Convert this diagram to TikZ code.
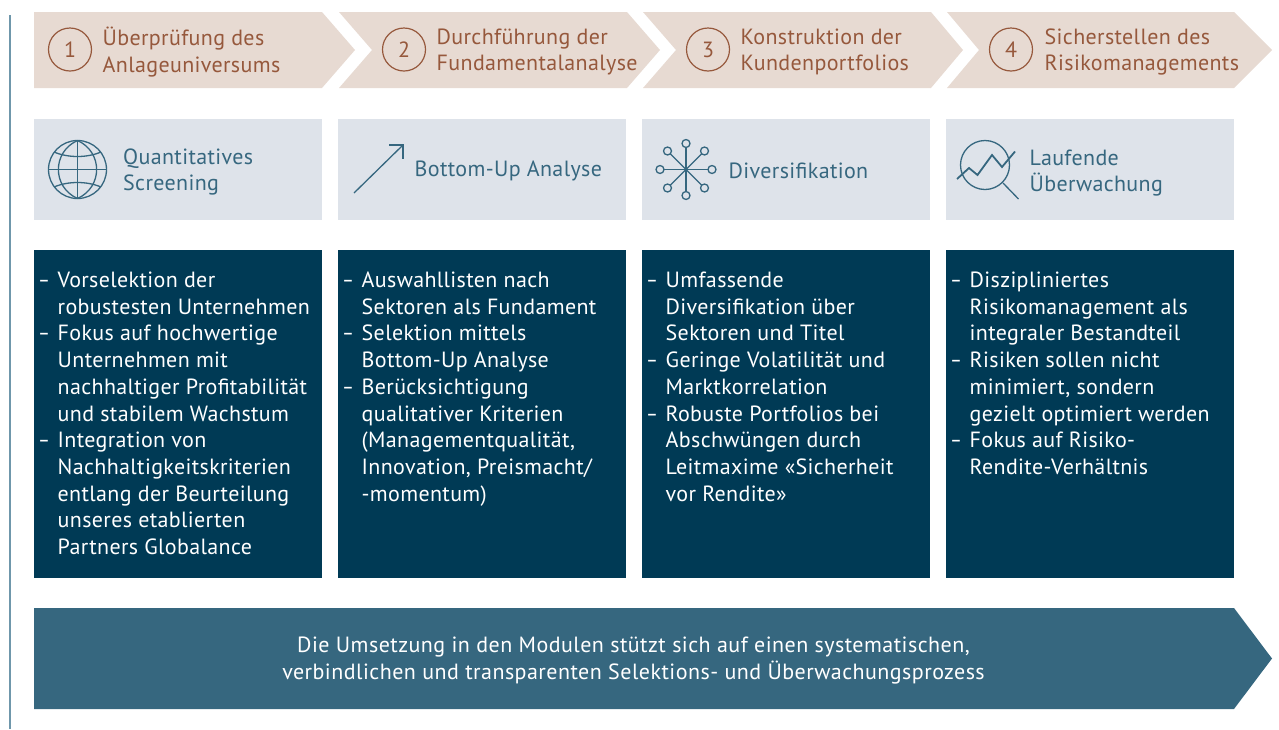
\documentclass[tikz,border=0pt]{standalone}
\usepackage{fontspec}
\setmainfont{PT Sans}[LetterSpace=1.6]
\definecolor{tanc}{HTML}{E7DAD2}
\definecolor{rust}{HTML}{96583C}
\definecolor{pale}{HTML}{DEE3EA}
\definecolor{steel}{HTML}{36677F}
\definecolor{navy}{HTML}{003A55}
\definecolor{rulec}{HTML}{6F97AB}
\newcommand{\hd}{\fontsize{22}{26.7}\selectfont}
\newcommand{\bd}{\fontsize{22}{26.72}\selectfont}
\newcommand{\dsh}{\makebox[16.5pt][l]{\kern-3pt\scalebox{.82}[1]{–}}}
\newcommand{\ind}{\hspace{16.5pt}}
\tikzset{
 x=1pt,y=-1pt,
 chev/.style={fill=tanc,draw=none},
 numc/.style={circle,draw=rust,line width=1.2pt,minimum size=43pt,inner sep=0pt,text=rust,font=\hd},
 htext/.style={anchor=west,align=left,text=rust,font=\hd,inner sep=0pt},
 pbox/.style={fill=pale,draw=none},
 ptext/.style={anchor=west,align=left,text=steel,font=\hd,inner sep=0pt},
 ic/.style={draw=steel,line width=1.3pt},
 dbox/.style={fill=navy,draw=none},
 dtext/.style={anchor=north west,align=left,text=white,font=\bd,inner sep=0pt}
}
\begin{document}
\begin{tikzpicture}
\useasboundingbox (0,0) rectangle (1279,729);
\draw[rulec,line width=1.4pt] (10,15) -- (10,729);
% chevrons
\fill[chev] (34,12)--(322,12)--(355,50)--(322,88)--(34,88)--cycle;
\fill[chev] (339,12)--(627,12)--(660,50)--(627,88)--(339,88)--(372,50)--cycle;
\fill[chev] (643,12)--(931,12)--(963,50)--(931,88)--(643,88)--(676,50)--cycle;
\fill[chev] (947,12)--(1234,12)--(1272,50)--(1234,88)--(947,88)--(979,50)--cycle;
\node[numc] (n1) at (70,49.5) {1};
\node[numc] (n2) at (404,49.5) {2};
\node[numc] (n3) at (708,49.5) {3};
\node[numc] (n4) at (1011,49.5) {4};
\node[htext] (h1) at (102.5,52) {Überprüfung des\\Anlageuniversums};
\node[htext] (h2) at (436.5,52) {Durchführung der\\Fundamentalanalyse};
\node[htext] (h3) at (740.5,52) {Konstruktion der\\Kundenportfolios};
\node[htext] (h4) at (1044.5,52) {Sicherstellen des\\Risikomanagements};
% pale boxes
\foreach \x in {34,338,642,946} \fill[pbox] (\x,119) rectangle +(288,101);
\node[ptext] (p1) at (123,172) {Quantitatives\\Screening};
\node[ptext] (p2) at (414.5,170.5) {Bottom-Up Analyse};
\node[ptext] (p3) at (728.5,170.5) {Diversifikation};
\node[ptext] (p4) at (1029.5,173) {Laufende\\Überwachung};
% globe
\begin{scope}[ic]
\draw (77.5,169.5) circle (29);
\draw (77.5,140.5) -- (77.5,198.5) (48.5,169.5) -- (106.5,169.5);
\draw (77.5,140.5) .. controls (52,152) and (52,187) .. (77.5,198.5);
\draw (77.5,140.5) .. controls (103,152) and (103,187) .. (77.5,198.5);
\draw (54,152) .. controls (68,158) and (87,158) .. (101,152);
\draw (54,187) .. controls (68,181) and (87,181) .. (101,187);
% arrow
\draw (354,193) -- (403,145);
\draw (389,145) -- (403,145) -- (403,159);
% star
\foreach \dx/\dy in {26/0,-26/0,0/-26,0/26,18.5/-18.5,-18.5/-18.5,18.5/18.5,-18.5/18.5}{
 \draw (686,169.5) -- +(\dx,\dy);
 \path[fill=pale] (686,169.5) ++(\dx,\dy) circle (4);
 \draw (686,169.5) ++(\dx,\dy) circle (4);
}
% magnifier
\draw (985,165) circle (24.5);
\draw (1003,183) -- (1018.5,199);
\draw[line width=1.8pt] (957,179) -- (969,168) -- (977.5,175) -- (992,155) -- (1002,167) -- (1015,151.5);
\end{scope}
% dark boxes
\foreach \x in {34,338,642,946} \fill[dbox] (\x,250) rectangle +(288,328);
\node[dtext] (d1) at (41,268.5) {\begin{tabular}{@{}l@{}}
\dsh Vorselektion der\\ \ind robustesten Unternehmen\\
\dsh Fokus auf hochwertige\\ \ind Unternehmen mit\\ \ind nachhaltiger Profitabilität\\ \ind und stabilem Wachstum\\
\dsh Integration von\\ \ind Nachhaltigkeitskriterien\\ \ind entlang der Beurteilung\\ \ind unseres etablierten\\ \ind Partners Globalance\end{tabular}};
\node[dtext] (d2) at (345,268.5) {\begin{tabular}{@{}l@{}}
\dsh Auswahllisten nach\\ \ind Sektoren als Fundament\\
\dsh Selektion mittels\\ \ind Bottom-Up Analyse\\
\dsh Berücksichtigung\\ \ind qualitativer Kriterien\\ \ind (Managementqualität,\\ \ind Innovation, Preismacht/\\ \ind -momentum)\end{tabular}};
\node[dtext] (d3) at (649,268.5) {\begin{tabular}{@{}l@{}}
\dsh Umfassende\\ \ind Diversifikation über\\ \ind Sektoren und Titel\\
\dsh Geringe Volatilität und\\ \ind Marktkorrelation\\
\dsh Robuste Portfolios bei\\ \ind Abschwüngen durch\\ \ind Leitmaxime «Sicherheit\\ \ind vor Rendite»\end{tabular}};
\node[dtext] (d4) at (953,268.5) {\begin{tabular}{@{}l@{}}
\dsh Diszipliniertes\\ \ind Risikomanagement als\\ \ind integraler Bestandteil\\
\dsh Risiken sollen nicht\\ \ind minimiert, sondern\\ \ind gezielt optimiert werden\\
\dsh Fokus auf Risiko-\\ \ind Rendite-Verhältnis\end{tabular}};
% bottom arrow
\fill[steel] (34,608)--(1234,608)--(1272,658.5)--(1234,709)--(34,709)--cycle;
\node[align=center,text=white,font=\hd\addfontfeatures{LetterSpace=2.1},inner sep=0pt] (b) at (633.5,660.5) {Die Umsetzung in den Modulen stützt sich auf einen systematischen,\\verbindlichen und transparenten Selektions- und Überwachungsprozess};
\end{tikzpicture}
\end{document}
